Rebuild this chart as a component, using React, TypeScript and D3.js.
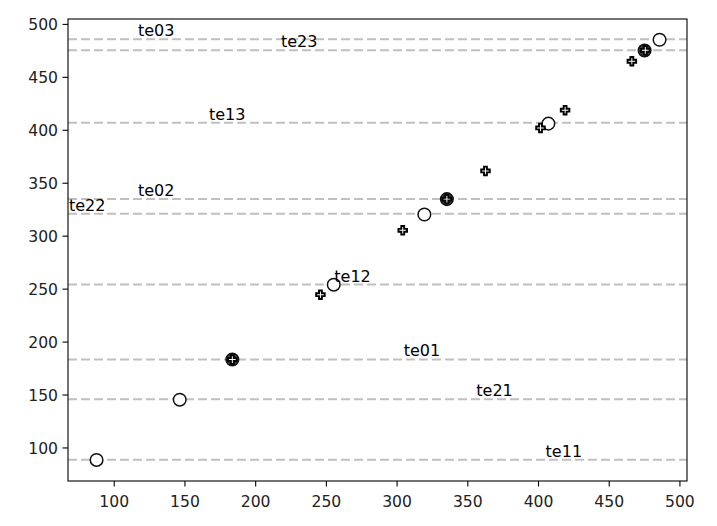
import React from "react";
import * as d3 from "d3";

// Circle markers (x, y)
const circleX = [87.5, 146.3, 183.5, 255.2, 319.3, 335.2, 407, 475, 485.6];
const circleY = [88.7, 145.6, 183.5, 254.2, 320.5, 335, 406.3, 475.3, 485.5];

// Plus markers (x, y)
const plusX = [183.5, 245.8, 304, 335.2, 362.5, 401.4, 418.8, 466, 475.5];
const plusY = [183.5, 244.7, 305.5, 335, 361.6, 402.2, 419, 465.2, 475.5];

// Horizontal reference lines with labels
const lineLabels = ["te11", "te21", "te01", "te12", "te22", "te02", "te13", "te23", "te03"];
const lineValues = [88.9, 146, 183.6, 254.3, 321.2, 335.1, 407.2, 475.7, 486];
const labelX = [405, 356, 304.7, 255.6, 68, 116.8, 167, 217.9, 116.8];

const xTicks = [100, 150, 200, 250, 300, 350, 400, 450, 500];
const yTicks = [100, 150, 200, 250, 300, 350, 400, 450, 500];

const xDomain = [67.3, 505];
const yDomain = [68.8, 505.1];

const W = 717;
const H = 526;
const L = 68;
const R = 687;
const T = 19;
const B = 481;

export default function App() {
  const x = d3.scaleLinear().domain(xDomain).range([L, R]);
  const y = d3.scaleLinear().domain(yDomain).range([B, T]);
  const font = "'DejaVu Sans', sans-serif";
  const fs = 15.6;

  // matplotlib-style 'P' (filled plus) marker
  const ps = 8.6;
  const a = ps / 2;
  const b = ps / 6;
  const plusPath = `M${-b},${-a}L${b},${-a}L${b},${-b}L${a},${-b}L${a},${b}L${b},${b}L${b},${a}L${-b},${a}L${-b},${b}L${-a},${b}L${-a},${-b}L${-b},${-b}Z`;

  const isShared = (cx: number, cy: number) =>
    plusX.some((px, i) => Math.abs(px - cx) < 1 && Math.abs(plusY[i] - cy) < 1);

  return (
    <svg
      width={W}
      height={H}
      style={{ position: "absolute", left: 0, top: 0, background: "#fff" }}
      fontFamily={font}
    >
      <rect x={0} y={0} width={W} height={H} fill="#fff" />
      <defs>
        <clipPath id="plotClip">
          <rect x={L} y={T} width={R - L} height={B - T} />
        </clipPath>
      </defs>
      <g clipPath="url(#plotClip)">
        {lineValues.map((v, i) => (
          <line
            key={"hl" + i}
            x1={L}
            x2={R}
            y1={y(v)}
            y2={y(v)}
            stroke="#c0c0c0"
            strokeWidth={2}
            strokeDasharray="9,4"
          />
        ))}
        {circleX.map((cx, i) => {
          const shared = isShared(cx, circleY[i]);
          return (
            <circle
              key={"c" + i}
              cx={x(cx)}
              cy={y(circleY[i])}
              r={6.3}
              fill={shared ? "#3a3a3a" : "#fff"}
              stroke="#111"
              strokeWidth={1.5}
            />
          );
        })}
        {plusX.map((px, i) => (
          <path
            key={"p" + i}
            d={plusPath}
            transform={`translate(${x(px)},${y(plusY[i])})`}
            fill="#fff"
            stroke="#000"
            strokeWidth={1.9}
            strokeLinejoin="miter"
          />
        ))}
      </g>
      {lineLabels.map((t, i) => (
        <text
          key={"lb" + i}
          x={x(labelX[i])}
          y={y(lineValues[i]) - 3}
          fontSize={16}
          fill="#000"
        >
          {t}
        </text>
      ))}
      {/* spines */}
      <rect x={L} y={T} width={R - L} height={B - T} fill="none" stroke="#000" strokeWidth={1.1} />
      {/* x ticks */}
      {xTicks.map((t) => (
        <g key={"xt" + t}>
          <line x1={x(t)} x2={x(t)} y1={B} y2={B + 5.5} stroke="#000" strokeWidth={1.1} />
          <text x={x(t)} y={B + 25.5} textAnchor="middle" fontSize={fs} fill="#222">
            {t}
          </text>
        </g>
      ))}
      {/* y ticks */}
      {yTicks.map((t) => (
        <g key={"yt" + t}>
          <line x1={L - 5.5} x2={L} y1={y(t)} y2={y(t)} stroke="#000" strokeWidth={1.1} />
          <text x={L - 10} y={y(t)} dy="0.36em" textAnchor="end" fontSize={fs} fill="#222">
            {t}
          </text>
        </g>
      ))}
    </svg>
  );
}
